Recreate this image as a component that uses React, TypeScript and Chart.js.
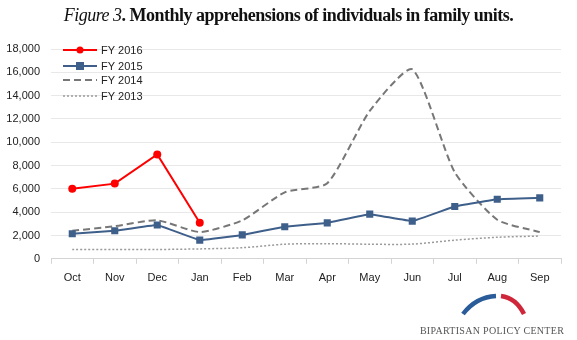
import React, { useEffect, useRef } from "react";
import { Chart, registerables } from "chart.js";

Chart.register(...registerables);

const months = ["Oct", "Nov", "Dec", "Jan", "Feb", "Mar", "Apr", "May", "Jun", "Jul", "Aug", "Sep"];
const fy2016 = [6000, 6450, 8950, 3100, null, null, null, null, null, null, null, null];
const fy2015 = [2150, 2400, 2900, 1600, 2050, 2750, 3080, 3830, 3230, 4490, 5110, 5230];
const fy2014 = [2400, 2800, 3300, 2300, 3300, 5700, 6480, 12690, 16260, 7420, 3350, 2290];
const fy2013 = [800, 800, 800, 850, 950, 1250, 1300, 1250, 1260, 1600, 1850, 1950];
const legendLabels = ["FY 2016", "FY 2015", "FY 2014", "FY 2013"];

const FONT = "'Liberation Sans', Arial, sans-serif";

const legendPlugin = {
  id: "insideLegend",
  afterDraw(chart: any) {
    const ctx = chart.ctx;
    const area = chart.chartArea;
    const x0 = area.left + 12;
    const x1 = x0 + 34;
    const ys = [area.top + 1, area.top + 17, area.top + 31, area.top + 47];
    ctx.save();
    chart.data.datasets.forEach((ds: any, i: number) => {
      const y = ys[i];
      ctx.beginPath();
      ctx.strokeStyle = ds.borderColor;
      ctx.lineWidth = ds.borderWidth;
      ctx.setLineDash(ds.borderDash || []);
      ctx.moveTo(x0, y);
      ctx.lineTo(x1, y);
      ctx.stroke();
      ctx.setLineDash([]);
      const cx = (x0 + x1) / 2;
      if (ds.pointStyle === "circle" && ds.pointRadius > 0) {
        ctx.beginPath();
        ctx.fillStyle = ds.borderColor;
        ctx.arc(cx, y, 3.5, 0, Math.PI * 2);
        ctx.fill();
      } else if (ds.pointStyle === "rect" && ds.pointRadius > 0) {
        ctx.fillStyle = ds.borderColor;
        ctx.fillRect(cx - 4, y - 4, 8, 8);
      }
      ctx.fillStyle = "#222";
      ctx.font = "11px " + FONT;
      ctx.textBaseline = "middle";
      ctx.textAlign = "left";
      ctx.fillText(legendLabels[i], x1 + 4, y + 0.5);
    });
    ctx.restore();
  },
};

export default function App() {
  const ref = useRef<HTMLCanvasElement | null>(null);
  useEffect(() => {
    if (!ref.current) return;
    const chart = new Chart(ref.current, {
      type: "line",
      data: {
        labels: months,
        datasets: [
          {
            label: "FY 2016",
            data: fy2016,
            borderColor: "#ff0000",
            backgroundColor: "#ff0000",
            borderWidth: 2,
            pointStyle: "circle",
            pointRadius: 4,
            pointBackgroundColor: "#ff0000",
            pointBorderWidth: 0,
            tension: 0,
            spanGaps: false,
          },
          {
            label: "FY 2015",
            data: fy2015,
            borderColor: "#3e5f8a",
            backgroundColor: "#3e5f8a",
            borderWidth: 2,
            pointStyle: "rect",
            pointRadius: 5,
            pointBackgroundColor: "#3e5f8a",
            pointBorderWidth: 0,
            tension: 0.05,
          },
          {
            label: "FY 2014",
            data: fy2014,
            borderColor: "#777777",
            backgroundColor: "#777777",
            borderWidth: 2,
            borderDash: [7, 4],
            pointRadius: 0,
            tension: 0.2,
          },
          {
            label: "FY 2013",
            data: fy2013,
            borderColor: "#9a9a9a",
            backgroundColor: "#9a9a9a",
            borderWidth: 1.5,
            borderDash: [2, 2],
            pointRadius: 0,
            tension: 0.3,
          },
        ],
      },
      options: {
        animation: false,
        responsive: false,
        maintainAspectRatio: false,
        layout: { padding: { top: 49, right: 16, bottom: 47, left: 0 } },
        plugins: {
          legend: { display: false },
          title: { display: false },
          tooltip: { enabled: false },
        },
        scales: {
          x: {
            type: "category",
            offset: true,
            grid: {
              offset: true,
              drawOnChartArea: false,
              drawTicks: true,
              tickLength: 5,
              color: "#d4d4d4",
            },
            border: { display: true, color: "#d4d4d4" },
            ticks: {
              color: "#222",
              font: { family: FONT, size: 11 },
              padding: 8,
              maxRotation: 0,
              autoSkip: false,
            },
          },
          y: {
            min: 0,
            max: 18000,
            afterFit: (scale: any) => {
              scale.width = 51;
            },
            grid: { color: "#e8e8e8", drawTicks: false },
            border: { display: false },
            ticks: {
              stepSize: 2000,
              color: "#222",
              font: { family: FONT, size: 11 },
              padding: 11,
              callback: (v: any) => Number(v).toLocaleString("en-US"),
            },
          },
        },
      },
      plugins: [legendPlugin],
    });
    return () => chart.destroy();
  }, []);

  return (
    <div style={{ position: "absolute", left: 0, top: 0, width: 577, height: 340, background: "#fff", overflow: "hidden" }}>
      <canvas ref={ref} width={577} height={340} style={{ position: "absolute", left: 0, top: 0 }} />
      <div
        style={{
          position: "absolute",
          left: 0,
          top: 5,
          width: 577,
          textAlign: "center",
          fontFamily: "'Liberation Serif', 'DejaVu Serif', serif",
          fontSize: 18,
          letterSpacing: -0.5,
          color: "#111",
          whiteSpace: "nowrap",
        }}
      >
        <i>Figure 3</i>
        <b>. Monthly apprehensions of individuals in family units.</b>
      </div>
      <svg style={{ position: "absolute", left: 458, top: 293 }} width={72} height={24}>
        <path d="M5 21 Q 18 4 38 3" stroke="#2a5c9a" strokeWidth={4.5} fill="none" />
        <path d="M43 3 Q 58 5 66 21" stroke="#d0263a" strokeWidth={4.5} fill="none" />
      </svg>
      <div
        style={{
          position: "absolute",
          left: 412,
          top: 325,
          width: 160,
          textAlign: "center",
          fontFamily: "'Liberation Serif', 'DejaVu Serif', serif",
          fontSize: 10,
          letterSpacing: 0.3,
          color: "#555",
          whiteSpace: "nowrap",
        }}
      >
        BIPARTISAN POLICY CENTER
      </div>
    </div>
  );
}
